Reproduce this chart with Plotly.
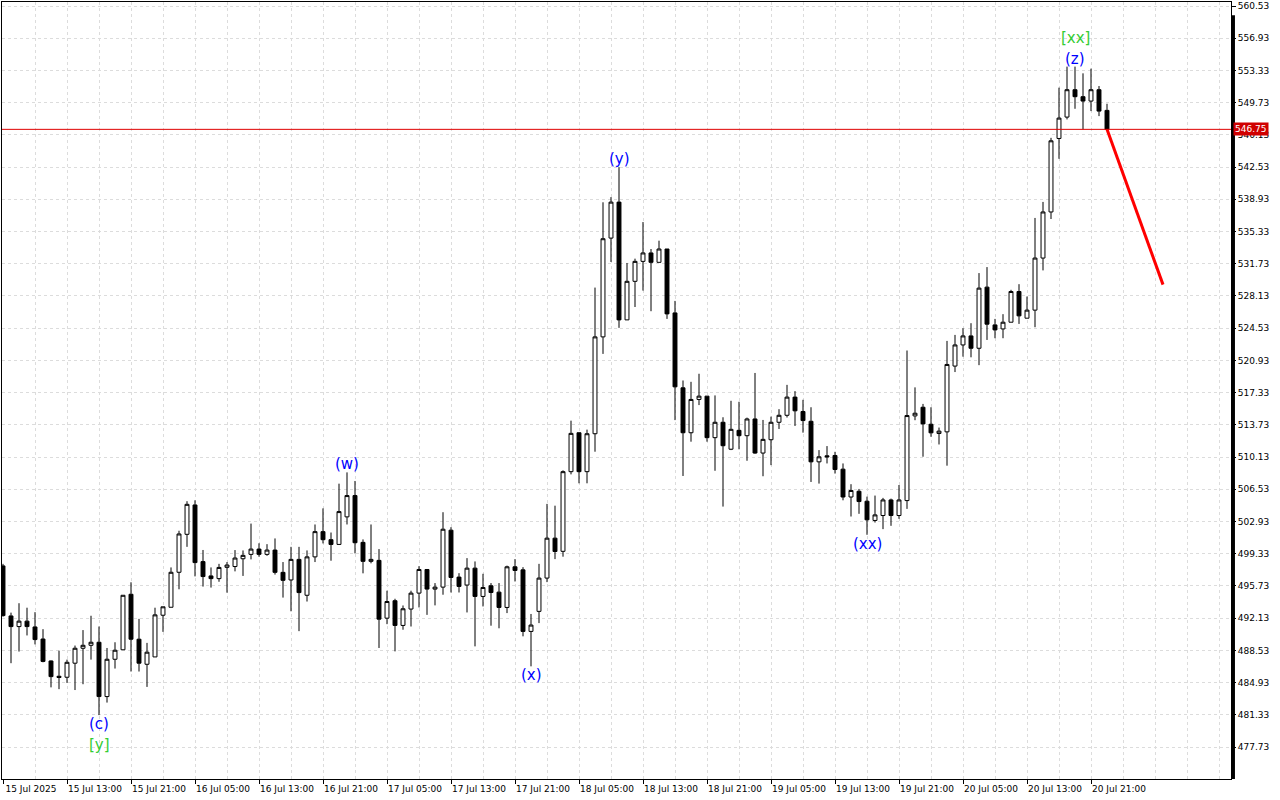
import pandas as pd
import plotly.graph_objects as go

# hourly OHLC, 15 Jul 2025 05:00 -> 20 Jul 2025 23:00
opens = [
    497.97, 492.38, 491.19, 491.80, 491.15, 489.80, 487.35, 485.64, 485.53, 487.10,
    488.77, 489.10, 489.44, 483.37, 487.54, 488.60, 494.80, 489.78, 486.98, 487.80,
    492.46, 493.35, 497.26, 501.50, 504.78, 498.45, 496.85, 496.55, 497.81, 497.90,
    498.77, 499.26, 499.85, 499.26, 499.74, 497.25, 496.40, 498.70, 494.69, 498.98,
    501.80, 500.90, 500.37, 503.45, 505.83, 500.60, 498.48, 498.59, 492.13, 494.08,
    491.32, 493.15, 494.93, 497.57, 495.38, 495.60, 501.96, 496.72, 495.83, 497.72,
    494.56, 495.75, 495.04, 493.33, 497.87, 497.53, 490.65, 492.89, 496.61, 501.07,
    499.60, 508.50, 512.85, 508.50, 512.74, 523.56, 534.60, 538.62, 525.46, 529.77,
    532.00, 532.94, 531.89, 533.38, 526.24, 517.87, 512.85, 516.57, 516.94, 512.30,
    514.02, 511.01, 513.12, 512.52, 514.39, 510.58, 512.07, 514.02, 514.80, 516.83,
    515.22, 514.13, 509.60, 510.27, 510.31, 508.78, 505.67, 506.31, 505.20, 503.05,
    503.60, 505.34, 503.60, 505.27, 514.73, 515.70, 513.80, 512.77, 512.95, 520.30,
    522.66, 523.67, 522.29, 529.12, 524.90, 524.45, 525.20, 528.63, 525.65, 526.55,
    532.37, 537.52, 545.73, 548.12, 551.18, 550.40, 549.91, 551.18, 548.87,
]
highs = [
    498.20, 492.75, 493.80, 493.30, 492.80, 490.90, 487.40, 488.50, 487.50, 489.07,
    490.80, 492.40, 491.20, 488.80, 489.44, 494.70, 496.14, 492.05, 489.37, 493.30,
    493.40, 497.80, 501.90, 505.20, 505.30, 499.75, 497.80, 498.20, 498.40, 499.74,
    499.70, 502.70, 500.50, 500.40, 501.04, 498.40, 500.10, 500.10, 499.70, 502.60,
    504.40, 501.70, 507.16, 508.42, 507.46, 500.93, 502.60, 499.85, 495.20, 494.30,
    493.55, 495.20, 497.94, 497.57, 496.05, 503.97, 502.30, 497.16, 498.84, 498.47,
    497.09, 496.05, 496.05, 498.00, 498.73, 497.83, 492.60, 498.20, 504.90, 504.70,
    508.65, 514.20, 512.85, 513.20, 529.07, 538.60, 539.18, 542.53, 531.82, 532.30,
    536.39, 533.38, 534.31, 533.38, 527.58, 518.69, 518.54, 519.44, 516.94, 517.02,
    514.58, 516.42, 516.31, 514.54, 519.53, 514.28, 514.65, 515.48, 518.20, 517.50,
    516.53, 515.70, 510.91, 511.36, 510.72, 509.42, 507.10, 506.57, 505.71, 505.83,
    505.57, 505.49, 507.01, 522.04, 517.92, 516.07, 515.70, 513.43, 523.11, 523.78,
    524.53, 525.09, 530.69, 531.36, 525.57, 526.10, 528.82, 529.45, 528.07, 536.85,
    538.64, 545.80, 551.41, 553.76, 553.76, 553.01, 553.53, 551.59, 549.61,
]
lows = [
    492.30, 487.10, 488.40, 490.20, 489.20, 487.20, 484.40, 484.20, 484.90, 484.10,
    484.75, 487.50, 481.30, 482.70, 486.50, 488.60, 486.17, 486.17, 484.45, 487.80,
    490.60, 493.35, 495.36, 500.10, 496.80, 495.66, 495.55, 496.20, 494.98, 497.36,
    496.85, 498.70, 499.00, 499.10, 497.00, 494.43, 492.90, 490.68, 493.99, 498.40,
    500.48, 498.55, 500.37, 502.60, 499.37, 497.14, 498.26, 488.80, 491.46, 488.42,
    490.84, 491.20, 493.33, 492.50, 493.56, 494.75, 495.00, 495.00, 492.77, 488.98,
    493.44, 491.29, 491.00, 492.70, 496.23, 490.10, 486.75, 491.58, 496.16, 498.73,
    499.00, 508.20, 507.20, 507.20, 510.73, 521.66, 531.93, 524.57, 525.46, 526.90,
    528.73, 526.43, 531.89, 525.57, 514.26, 508.02, 511.85, 515.94, 511.85, 508.60,
    504.60, 510.91, 511.00, 509.72, 510.50, 507.99, 509.23, 513.27, 514.55, 513.61,
    512.86, 507.35, 507.17, 509.42, 508.29, 505.30, 503.49, 503.79, 501.45, 502.82,
    502.08, 502.45, 503.23, 504.34, 514.25, 510.17, 512.40, 511.54, 509.17, 519.63,
    521.35, 521.28, 520.40, 523.22, 523.41, 523.41, 525.20, 525.01, 525.65, 524.64,
    530.99, 536.73, 543.46, 547.86, 549.05, 546.74, 548.79, 548.23, 546.75,
]
closes = [
    492.42, 491.19, 491.80, 491.19, 489.74, 487.30, 485.60, 485.50, 487.20, 488.77,
    489.10, 489.44, 483.37, 487.54, 488.55, 494.69, 489.78, 487.10, 488.33, 492.50,
    493.40, 497.26, 501.54, 504.85, 498.34, 496.78, 496.55, 497.80, 498.07, 498.85,
    499.15, 499.85, 499.26, 499.74, 497.25, 496.36, 498.70, 494.99, 498.98, 501.80,
    500.90, 500.37, 504.04, 505.83, 500.56, 498.48, 498.70, 492.02, 493.99, 491.32,
    493.18, 494.93, 497.57, 495.38, 495.60, 502.07, 496.68, 495.68, 497.72, 494.56,
    495.56, 495.00, 493.33, 497.87, 497.46, 490.65, 491.36, 496.61, 501.07, 499.58,
    508.50, 512.78, 508.50, 512.74, 523.56, 534.53, 538.62, 525.46, 529.77, 532.00,
    532.94, 531.89, 533.38, 526.13, 517.98, 512.85, 516.57, 516.94, 512.30, 514.02,
    511.40, 513.23, 512.52, 514.39, 510.58, 512.11, 514.02, 514.80, 516.83, 515.30,
    514.21, 509.60, 510.16, 510.16, 508.74, 505.67, 506.40, 505.16, 503.12, 503.67,
    505.34, 503.60, 505.34, 514.77, 515.03, 513.84, 512.84, 513.03, 520.48, 522.66,
    523.67, 522.29, 529.01, 524.98, 524.34, 525.20, 528.63, 525.91, 526.55, 532.37,
    537.52, 545.47, 548.01, 551.18, 550.40, 549.91, 551.18, 548.79, 546.75,
]
times = pd.date_range("2025-07-15 05:00", periods=len(opens), freq="h")

price_ticks = [
    477.73, 481.33, 484.93, 488.53, 492.13, 495.73, 499.33, 502.93, 506.53, 510.13,
    513.73, 517.33, 520.93, 524.53, 528.13, 531.73, 535.33, 538.93, 542.53, 546.13,
    549.73, 553.33, 556.93, 560.53,
]
time_ticks = [
    "2025-07-15 05:00", "2025-07-15 13:00", "2025-07-15 21:00",
    "2025-07-16 05:00", "2025-07-16 13:00", "2025-07-16 21:00",
    "2025-07-17 05:00", "2025-07-17 13:00", "2025-07-17 21:00",
    "2025-07-18 05:00", "2025-07-18 13:00", "2025-07-18 21:00",
    "2025-07-19 05:00", "2025-07-19 13:00", "2025-07-19 21:00",
    "2025-07-20 05:00", "2025-07-20 13:00", "2025-07-20 21:00",
]
time_labels = [
    "15 Jul 2025", "15 Jul 13:00", "15 Jul 21:00",
    "16 Jul 05:00", "16 Jul 13:00", "16 Jul 21:00",
    "17 Jul 05:00", "17 Jul 13:00", "17 Jul 21:00",
    "18 Jul 05:00", "18 Jul 13:00", "18 Jul 21:00",
    "19 Jul 05:00", "19 Jul 13:00", "19 Jul 21:00",
    "20 Jul 05:00", "20 Jul 13:00", "20 Jul 21:00",
]

# wave labels: text, candle index, anchor on high/low, colour, stacked level
wave_labels = [
    ("(c)", 12, "low", "#0000FF", 0),
    ("[y]", 12, "low", "#33CC33", 1),
    ("(w)", 43, "high", "#0000FF", 0),
    ("(x)", 66, "low", "#0000FF", 0),
    ("(y)", 77, "high", "#0000FF", 0),
    ("(xx)", 108, "low", "#0000FF", 0),
    ("(z)", 134, "high", "#0000FF", 0),
    ("[xx]", 134, "high", "#33CC33", 1),
]

last_price = 546.75
forecast_time = "2025-07-21 06:00"
forecast_price = 529.4

GRID = "#DCDCDC"
FONT = "DejaVu Sans"

fig = go.Figure()
fig.add_trace(go.Candlestick(
    x=times, open=opens, high=highs, low=lows, close=closes,
    increasing=dict(line=dict(color="black", width=1), fillcolor="white"),
    decreasing=dict(line=dict(color="black", width=1), fillcolor="black"),
    whiskerwidth=0,
    showlegend=False,
))

# projected move
fig.add_trace(go.Scatter(
    x=[times[-1], forecast_time], y=[last_price, forecast_price],
    mode="lines", line=dict(color="#FF0000", width=3),
    showlegend=False, hoverinfo="skip",
))

fig.add_hline(y=last_price, line_color="#E00000", line_width=1)

for text, idx, side, color, level in wave_labels:
    if side == "low":
        y, anchor, shift = lows[idx], "top", 2 - 21 * level
    else:
        y, anchor, shift = highs[idx], "bottom", -3 + 21 * level
    fig.add_annotation(
        x=times[idx], y=y, text=text, showarrow=False,
        yanchor=anchor, yshift=shift,
        font=dict(family=FONT, size=15, color=color),
    )

fig.add_annotation(
    x=1, xref="paper", xanchor="left", xshift=2,
    y=last_price, yanchor="middle",
    text=f"{last_price:.2f}", showarrow=False,
    bgcolor="#D00000", borderpad=1,
    font=dict(family=FONT, size=9, color="white"),
)

# thick marker bar at right edge of the chart
fig.add_shape(
    type="line", xref="paper", yref="paper",
    x0=1.002, x1=1.002, y0=0, y1=0.983,
    line=dict(color="black", width=3),
)

fig.update_layout(
    width=1280, height=800,
    margin=dict(l=2, r=49, t=2, b=21, autoexpand=False),
    plot_bgcolor="white", paper_bgcolor="white",
    font=dict(family=FONT, size=9, color="black"),
    xaxis=dict(
        type="date",
        range=["2025-07-15 04:52:30", "2025-07-21 14:30"],
        tickmode="array", tickvals=time_ticks, ticktext=time_labels,
        ticks="outside", ticklen=4, tickcolor="black",
        ticklabelshift=28, ticklabelstandoff=-3,
        showgrid=True, gridcolor=GRID, griddash="3px,3px", gridwidth=1,
        minor=dict(
            tickmode="linear", tick0="2025-07-15 05:00", dtick=4 * 3600 * 1000,
            showgrid=True, gridcolor=GRID, griddash="3px,3px", gridwidth=1,
        ),
        showline=True, linecolor="black", linewidth=1, mirror=True,
        rangeslider=dict(visible=False),
        tickfont=dict(family=FONT, size=9, color="black"),
        zeroline=False, automargin=False,
    ),
    yaxis=dict(
        side="right",
        range=[474.16, 560.98],
        tickmode="array", tickvals=price_ticks,
        ticktext=[f"{v:.2f}" for v in price_ticks],
        ticks="outside", ticklen=4, tickcolor="black",
        showgrid=True, gridcolor=GRID, griddash="3px,3px", gridwidth=1,
        showline=True, linecolor="black", linewidth=1, mirror=True,
        tickfont=dict(family=FONT, size=9, color="black"),
        zeroline=False, automargin=False,
    ),
)

fig.write_html(
    "out.html",
    config={"displayModeBar": False},
    post_script="document.body.style.margin='0';",
)
